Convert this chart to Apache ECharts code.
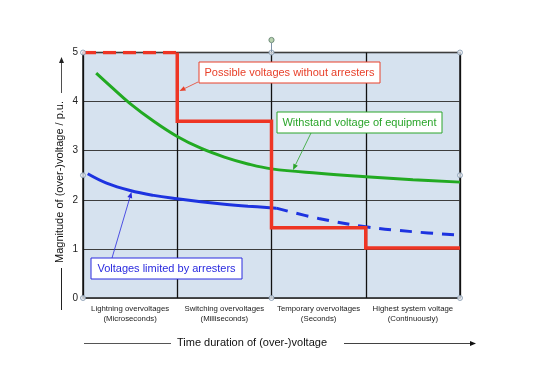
<!DOCTYPE html>
<html><head><meta charset="utf-8">
<script src="https://cdn.jsdelivr.net/npm/echarts@6/dist/echarts.min.js"></script>
<style>html,body{margin:0;padding:0;background:#fff}#c{width:538px;height:380px}</style>
</head><body><div id="c"></div>
<script>
// ---- data ----
const categories = ['Lightning overvoltages\n(Microseconds)', 'Switching overvoltages\n(Milliseconds)', 'Temporary overvoltages\n(Seconds)', 'Highest system voltage\n(Continuously)'];
const yTicks = [0, 1, 2, 3, 4, 5];
// red step line (without arresters)
const redDashX = [0, 1];
const redDashY = [5, 5];
const redX = [1, 1, 2, 2, 3, 3, 4];
const redY = [5, 3.6, 3.6, 1.43, 1.43, 1.02, 1.02];
// green: withstand voltage
const greenX = [0.14, 0.3, 0.5, 0.75, 1, 1.25, 1.5, 1.75, 2, 2.5, 3, 3.5, 4];
const greenY = [4.58, 4.3, 3.96, 3.6, 3.29, 3.05, 2.87, 2.73, 2.63, 2.54, 2.47, 2.41, 2.36];
// blue: limited by arresters (solid, then dashed)
const blueX = [0.05, 0.25, 0.5, 0.75, 1, 1.25, 1.5, 1.75, 2.05];
const blueY = [2.53, 2.34, 2.19, 2.09, 2.02, 1.96, 1.91, 1.87, 1.83];
const blueDashX = [2.05, 2.5, 3, 3.5, 4];
const blueDashY = [1.83, 1.62, 1.45, 1.35, 1.28];
// selection handles
const handleX = [0, 2, 4, 0, 4, 0, 2, 4];
const handleY = [5, 5, 5, 2.5, 2.5, 0, 0, 0];

const pairs = (xs, ys) => xs.map((x, i) => [x, ys[i]]);
const FONT = '"Liberation Sans", Arial, sans-serif';
const RED = '#ee3524', GREEN = '#22aa22', BLUE = '#1d33e0';

const chart = echarts.init(document.getElementById('c'));

function arrow(x1, y1, x2, y2, color) {
  const a = Math.atan2(y2 - y1, x2 - x1), L = 6, W = 2.5;
  const bx = x2 - L * Math.cos(a), by = y2 - L * Math.sin(a);
  const px = -Math.sin(a) * W, py = Math.cos(a) * W;
  return [
    { type: 'line', shape: { x1, y1, x2: bx, y2: by }, style: { stroke: color, lineWidth: 0.8 }, z: 20 },
    { type: 'polygon', shape: { points: [[x2, y2], [bx + px, by + py], [bx - px, by - py]] }, style: { fill: color }, z: 20 }
  ];
}
function box(x, y, w, h, text, color) {
  return [
    { type: 'rect', shape: { x, y, width: w, height: h }, style: { fill: '#fff', stroke: color, lineWidth: 1 }, z: 20 },
    { type: 'text', x: x + w / 2, y: y + h / 2, style: { text, fill: color, font: '11px ' + FONT, align: 'center', verticalAlign: 'middle' }, z: 21 }
  ];
}

const graphic = [].concat(
  box(199, 62, 181, 21, 'Possible voltages without arresters', '#e8402a'),
  arrow(198, 82, 179.5, 91, '#e8402a'),
  box(277, 112, 165, 21, 'Withstand voltage of equipment', '#2aa52a'),
  arrow(311, 133, 293, 170, '#2aa52a'),
  box(91, 258, 151, 21, 'Voltages limited by arresters', '#2a2adf'),
  arrow(112, 258, 131.5, 192, '#2a2adf'),
  // rotation handle
  [{ type: 'line', shape: { x1: 271.5, y1: 43, x2: 271.5, y2: 52 }, style: { stroke: '#7f93a8', lineWidth: 1 }, z: 30 },
   { type: 'circle', shape: { cx: 271.5, cy: 40, r: 2.6 }, style: { fill: '#b9d3b0', stroke: '#6f8c7a', lineWidth: 1 }, z: 30 }],
  // y-axis title
  [{ type: 'text', x: 60, y: 182, rotation: Math.PI / 2, style: { text: 'Magnitude of (over-)voltage / p.u.', fill: '#111', font: '11px ' + FONT, align: 'center', verticalAlign: 'middle' }, z: 10 },
   { type: 'line', shape: { x1: 61.5, y1: 310, x2: 61.5, y2: 268 }, style: { stroke: '#222', lineWidth: 1 } }],
  arrow(61.5, 93, 61.5, 57, '#222'),
  // x-axis title
  [{ type: 'text', x: 252, y: 343, style: { text: 'Time duration of (over-)voltage', fill: '#111', font: '11px ' + FONT, align: 'center', verticalAlign: 'middle' }, z: 10 },
   { type: 'line', shape: { x1: 84, y1: 343.5, x2: 171, y2: 343.5 }, style: { stroke: '#555', lineWidth: 1 } }],
  arrow(344, 343.5, 476, 343.5, '#111')
);

chart.setOption({
  animation: false,
  backgroundColor: '#fff',
  grid: { left: 83, right: 78, top: 52.5, bottom: 82, show: true, backgroundColor: '#d6e2ef', borderColor: '#1a1a1a', borderWidth: 1.5 },
  xAxis: [
    { type: 'value', min: 0, max: 4, interval: 1, axisLabel: { show: false }, axisTick: { show: false },
      axisLine: { show: false }, splitLine: { show: true, lineStyle: { color: '#111', width: 1.3 } } },
    { type: 'category', data: categories, position: 'bottom', boundaryGap: true, axisLine: { show: false }, axisTick: { show: false },
      axisLabel: { fontSize: 7.8, fontFamily: FONT, color: '#222', margin: 6, lineHeight: 10, interval: 0 } }
  ],
  yAxis: {
    type: 'value', min: yTicks[0], max: yTicks[yTicks.length - 1], interval: 1,
    axisLine: { show: false }, axisTick: { show: false },
    axisLabel: { fontSize: 10, fontFamily: FONT, color: '#222', margin: 5 },
    splitLine: { lineStyle: { color: '#3d3d3d', width: 1 } }
  },
  series: [
    { type: 'line', data: pairs(greenX, greenY), smooth: 0.4, symbol: 'none', lineStyle: { color: GREEN, width: 3 }, z: 3 },
    { type: 'line', data: pairs(blueX, blueY), smooth: 0.4, symbol: 'none', lineStyle: { color: BLUE, width: 3 }, z: 3 },
    { type: 'line', data: pairs(blueDashX, blueDashY), smooth: 0.4, symbol: 'none', lineStyle: { color: BLUE, width: 3, type: [12, 9] }, z: 3 },
    { type: 'line', data: pairs(redX, redY), symbol: 'none', lineStyle: { color: RED, width: 3.5, join: 'miter' }, z: 4 },
    { type: 'line', data: pairs(redDashX, redDashY), symbol: 'none', lineStyle: { color: RED, width: 3.5, type: [13, 7] }, z: 4 },
    { type: 'scatter', data: pairs(handleX, handleY), symbol: 'circle', symbolSize: 5, itemStyle: { color: '#e9eef5', borderColor: '#8196ad', borderWidth: 1 }, z: 10, silent: true }
  ],
  graphic
});
</script></body></html>
